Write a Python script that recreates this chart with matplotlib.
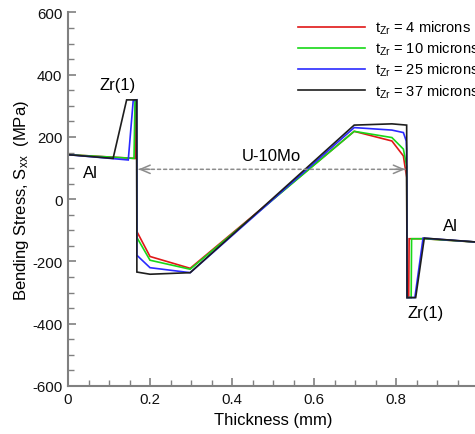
import matplotlib
matplotlib.use("Agg")
import matplotlib.pyplot as plt
from matplotlib.ticker import MultipleLocator

plt.rcParams['font.family'] = ['Liberation Sans', 'DejaVu Sans']
plt.rcParams['mathtext.fontset'] = 'custom'
plt.rcParams['mathtext.rm'] = 'Liberation Sans'
plt.rcParams['mathtext.it'] = 'Liberation Sans'
plt.rcParams['axes.unicode_minus'] = False

# ---------------- data ----------------
labels = ["t$_{\\mathrm{Zr}}$ = 4 microns", "t$_{\\mathrm{Zr}}$ = 10 microns",
          "t$_{\\mathrm{Zr}}$ = 25 microns", "t$_{\\mathrm{Zr}}$ = 37 microns"]
colors = ["#e01818", "#18d818", "#2a2aff", "#1e1e1e"]

x_4 = [0, 0.164, 0.166, 0.1675, 0.168, 0.2, 0.298, 0.698, 0.79, 0.818, 0.824, 0.826,
       0.827, 0.831, 0.832, 0.869, 1.0]
y_4 = [143, 131, 319, 319, -104, -184, -222, 218, 187, 139, 87, 70,
       -316, -316, -127, -127, -138]

x_10 = [0, 0.161, 0.1634, 0.1675, 0.168, 0.2, 0.298, 0.698, 0.79, 0.818, 0.825, 0.826,
        0.827, 0.837, 0.838, 0.869, 1.0]
y_10 = [143, 131, 319, 319, -123, -196, -225, 218, 198, 161, 113, 105,
        -316, -316, -127, -127, -138]

x_25 = [0, 0.147, 0.159, 0.1675, 0.168, 0.2, 0.298, 0.698, 0.79, 0.818, 0.825, 0.826,
        0.827, 0.846, 0.866, 1.0]
y_25 = [143, 126, 316, 319, -180, -220, -236, 230, 222, 214, 187, 160,
        -316, -316, -125, -138]

x_37 = [0, 0.11, 0.143, 0.1675, 0.168, 0.2, 0.298, 0.698, 0.79, 0.826,
        0.827, 0.848, 0.869, 1.0]
y_37 = [143, 131, 319, 319, -234, -241, -236, 238, 242, 238,
        -316, -316, -125, -138]

series_x = [x_4, x_10, x_25, x_37]
series_y = [y_4, y_10, y_25, y_37]

xticks = [0, 0.2, 0.4, 0.6, 0.8, 1.0]
xticklabels = ["0", "0.2", "0.4", "0.6", "0.8", "1"]
yticks = [-600, -400, -200, 0, 200, 400, 600]

# ---------------- figure ----------------
fig = plt.figure(figsize=(4.75, 4.35), dpi=100)
ax = fig.add_axes([68 / 475, 1 - 387 / 435, 410 / 475, (387 - 13.4) / 435])

for xs, ys, c, lab in zip(series_x, series_y, colors, labels):
    ax.plot(xs, ys, color=c, lw=1.2, label=lab, solid_joinstyle='miter')

ax.set_xlim(0, 1.0)
ax.set_ylim(-600, 600)
ax.set_xticks(xticks)
ax.set_xticklabels(xticklabels)
ax.set_yticks(yticks)
ax.xaxis.set_minor_locator(MultipleLocator(0.05))
ax.yaxis.set_minor_locator(MultipleLocator(50))

for s in ['top', 'right']:
    ax.spines[s].set_visible(False)
for s in ['left', 'bottom']:
    ax.spines[s].set_color('#808080')
    ax.spines[s].set_linewidth(1.5)

ax.tick_params(which='major', direction='in', length=6, width=1.2, color='#808080',
               labelsize=10.8, labelcolor='#111111', pad=4)
ax.tick_params(which='minor', direction='in', length=4, width=1.0, color='#808080')

ax.set_xlabel("Thickness (mm)", fontsize=12, labelpad=5)
ax.set_ylabel("Bending Stress, S$_{\\mathrm{xx}}$  (MPa)", fontsize=12, labelpad=1)

# annotations
ax.annotate('', xy=(0.172, 96), xytext=(0.822, 96),
            arrowprops=dict(arrowstyle='-', color='#8c8c8c', lw=1.1, ls=(0, (2, 2)),
                            shrinkA=0, shrinkB=0))
ax.annotate('', xy=(0.172, 96), xytext=(0.2, 96),
            arrowprops=dict(arrowstyle='->,head_length=0.7,head_width=0.3', color='#8c8c8c',
                            lw=1.1, shrinkA=0, shrinkB=0))
ax.annotate('', xy=(0.822, 96), xytext=(0.794, 96),
            arrowprops=dict(arrowstyle='->,head_length=0.7,head_width=0.3', color='#8c8c8c',
                            lw=1.1, shrinkA=0, shrinkB=0))

ax.text(0.497, 140, "U-10Mo", fontsize=12, ha='center', va='center')
ax.text(0.121, 370, "Zr(1)", fontsize=12, ha='center', va='center')
ax.text(0.054, 87, "Al", fontsize=12, ha='center', va='center')
ax.text(0.932, -86, "Al", fontsize=12, ha='center', va='center')
ax.text(0.872, -364, "Zr(1)", fontsize=12, ha='center', va='center')

leg = fig.legend(loc='upper left', bbox_to_anchor=(298 / 475, 1 - 20 / 435),
                 frameon=False, fontsize=10.5, handlelength=4.6, handletextpad=0.7,
                 labelspacing=0.25, borderpad=0, borderaxespad=0)

fig.savefig("out.png", dpi=100)
